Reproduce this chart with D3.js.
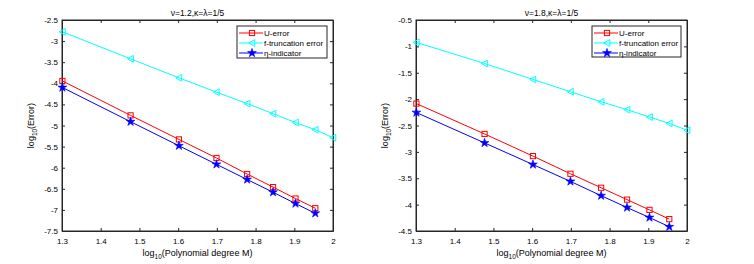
<!DOCTYPE html>
<html><head><meta charset="utf-8">
<script src="https://cdn.jsdelivr.net/npm/d3@7"></script>
<style>
body{margin:0;background:#fff;}
svg{font-family:"Liberation Sans",Arial,sans-serif;}
</style></head>
<body><svg id="c" width="754" height="264"></svg>
<script>
const xs = [1.30103, 1.47712, 1.60206, 1.69897, 1.77815, 1.84510, 1.90309, 1.95424, 2.0];
const xTicks = [1.3, 1.4, 1.5, 1.6, 1.7, 1.8, 1.9, 2.0];
const seriesNames = ["U-error", "f-truncation error", "\u03b7-indicator"];
const titles = ["\u03bd=1.2,\u03ba=\u03bb=1/5", "\u03bd=1.8,\u03ba=\u03bb=1/5"];
// panel 1 (nu = 1.2)
const uErr1 = [-3.945, -4.76, -5.33, -5.77, -6.15, -6.46, -6.73, -6.96];
const fErr1 = [-2.78, -3.42, -3.87, -4.21, -4.48, -4.72, -4.93, -5.10, -5.29];
const eta1  = [-4.10, -4.91, -5.48, -5.92, -6.28, -6.58, -6.85, -7.08];
const yTicks1 = [-7.5, -7, -6.5, -6, -5.5, -5, -4.5, -4, -3.5, -3, -2.5];
// panel 2 (nu = 1.8)
const uErr2 = [-2.085, -2.66, -3.08, -3.415, -3.68, -3.905, -4.10, -4.275];
const fErr2 = [-0.924, -1.325, -1.627, -1.86, -2.05, -2.20, -2.34, -2.46, -2.59];
const eta2  = [-2.255, -2.83, -3.24, -3.56, -3.83, -4.055, -4.245, -4.42];
const yTicks2 = [-4.5, -4, -3.5, -3, -2.5, -2, -1.5, -1, -0.5];

const colors = ["#ff0000", "#00ffff", "#0000ff"];
const svg = d3.select("#c");

const panels = [
  {left: 62, right: 333, title: titles[0], ydom: [-7.5, -2.5], yt: yTicks1, data: [uErr1, fErr1, eta1], leg: [237, 26, 90, 32]},
  {left: 416, right: 687, title: titles[1], ydom: [-4.5, -0.5], yt: yTicks2, data: [uErr2, fErr2, eta2], leg: [592, 26, 89, 31]}
];
const plotTop = 20, plotBottom = 231;

function drawMarker(g, kind, x, y, color) {
  if (kind === 0) {
    g.append("rect").attr("x", x - 2.6).attr("y", y - 2.6).attr("width", 5.2).attr("height", 5.2)
      .attr("fill", "none").attr("stroke", color).attr("stroke-width", 1);
  } else if (kind === 1) {
    g.append("path").attr("d", `M${x-3.2},${y}L${x+2.8},${y-3.4}L${x+2.8},${y+3.4}Z`)
      .attr("fill", "none").attr("stroke", color).attr("stroke-width", 1);
  } else {
    g.append("path").attr("d", d3.symbol().type(d3.symbolStar).size(24)())
      .attr("transform", `translate(${x},${y})`).attr("fill", color).attr("stroke", color).attr("stroke-width", 0.6);
  }
}

panels.forEach(p => {
  const x = d3.scaleLinear().domain([1.3, 2.0]).range([p.left, p.right]);
  const y = d3.scaleLinear().domain(p.ydom).range([plotBottom, plotTop]);
  const g = svg.append("g");
  const fmtX = d => (+d.toFixed(1)).toString();
  const fmtY = d => (+d.toFixed(1)).toString();

  g.append("g").attr("transform", `translate(0,${plotBottom})`)
    .call(d3.axisBottom(x).tickValues(xTicks).tickSizeInner(-3).tickSizeOuter(0).tickPadding(7).tickFormat(fmtX));
  g.append("g").attr("transform", `translate(0,${plotTop})`)
    .call(d3.axisTop(x).tickValues(xTicks).tickSizeInner(-3).tickSizeOuter(0).tickFormat(""));
  g.append("g").attr("transform", `translate(${p.left},0)`)
    .call(d3.axisLeft(y).tickValues(p.yt).tickSizeInner(-3).tickSizeOuter(0).tickPadding(4).tickFormat(fmtY));
  g.append("g").attr("transform", `translate(${p.right},0)`)
    .call(d3.axisRight(y).tickValues(p.yt).tickSizeInner(-3).tickSizeOuter(0).tickFormat(""));
  g.selectAll(".domain").attr("stroke", "#262626");
  g.selectAll(".tick line").attr("stroke", "#262626");
  g.selectAll(".tick text").attr("font-size", 8).attr("fill", "#000").attr("font-family", "Liberation Sans, Arial, sans-serif");
  g.append("rect").attr("x", p.left).attr("y", plotTop).attr("width", p.right - p.left).attr("height", plotBottom - plotTop)
    .attr("fill", "none").attr("stroke", "#262626").attr("stroke-width", 1);

  // series
  p.data.forEach((vals, k) => {
    const pts = vals.map((v, i) => [x(xs[i]), y(v)]);
    g.append("path").attr("d", d3.line()(pts)).attr("fill", "none").attr("stroke", colors[k]).attr("stroke-width", 1);
    pts.forEach(pt => drawMarker(g, k, pt[0], pt[1], colors[k]));
  });

  // title
  g.append("text").attr("x", (p.left + p.right) / 2).attr("y", 16).attr("text-anchor", "middle")
    .attr("font-size", 8.5).attr("fill", "#000").text(p.title);
  // x label
  const xl = g.append("text").attr("x", (p.left + p.right) / 2).attr("y", 256).attr("text-anchor", "middle")
    .attr("font-size", 9).attr("fill", "#000");
  xl.append("tspan").text("log");
  xl.append("tspan").attr("dy", 3).attr("font-size", 6.5).text("10");
  xl.append("tspan").attr("dy", -3).text("(Polynomial degree M)");
  // y label
  const yl = g.append("text").attr("transform", `translate(${p.left - 28},${(plotTop + plotBottom) / 2}) rotate(-90)`)
    .attr("text-anchor", "middle").attr("font-size", 9).attr("fill", "#000");
  yl.append("tspan").text("log");
  yl.append("tspan").attr("dy", 3).attr("font-size", 6.5).text("10");
  yl.append("tspan").attr("dy", -3).text("(Error)");

  // legend
  const [lx, ly, lw, lh] = p.leg;
  const lg = g.append("g");
  lg.append("rect").attr("x", lx).attr("y", ly).attr("width", lw).attr("height", lh)
    .attr("fill", "#fff").attr("stroke", "#262626").attr("stroke-width", 1);
  seriesNames.forEach((name, k) => {
    const cy = ly + 7 + k * 10;
    lg.append("line").attr("x1", lx + 2).attr("x2", lx + 26).attr("y1", cy).attr("y2", cy)
      .attr("stroke", colors[k]).attr("stroke-width", 1);
    drawMarker(lg, k, lx + 15, cy, colors[k]);
    lg.append("text").attr("x", lx + 27).attr("y", cy + 3).attr("font-size", 8).attr("fill", "#000").text(name);
  });
});
</script></body></html>
